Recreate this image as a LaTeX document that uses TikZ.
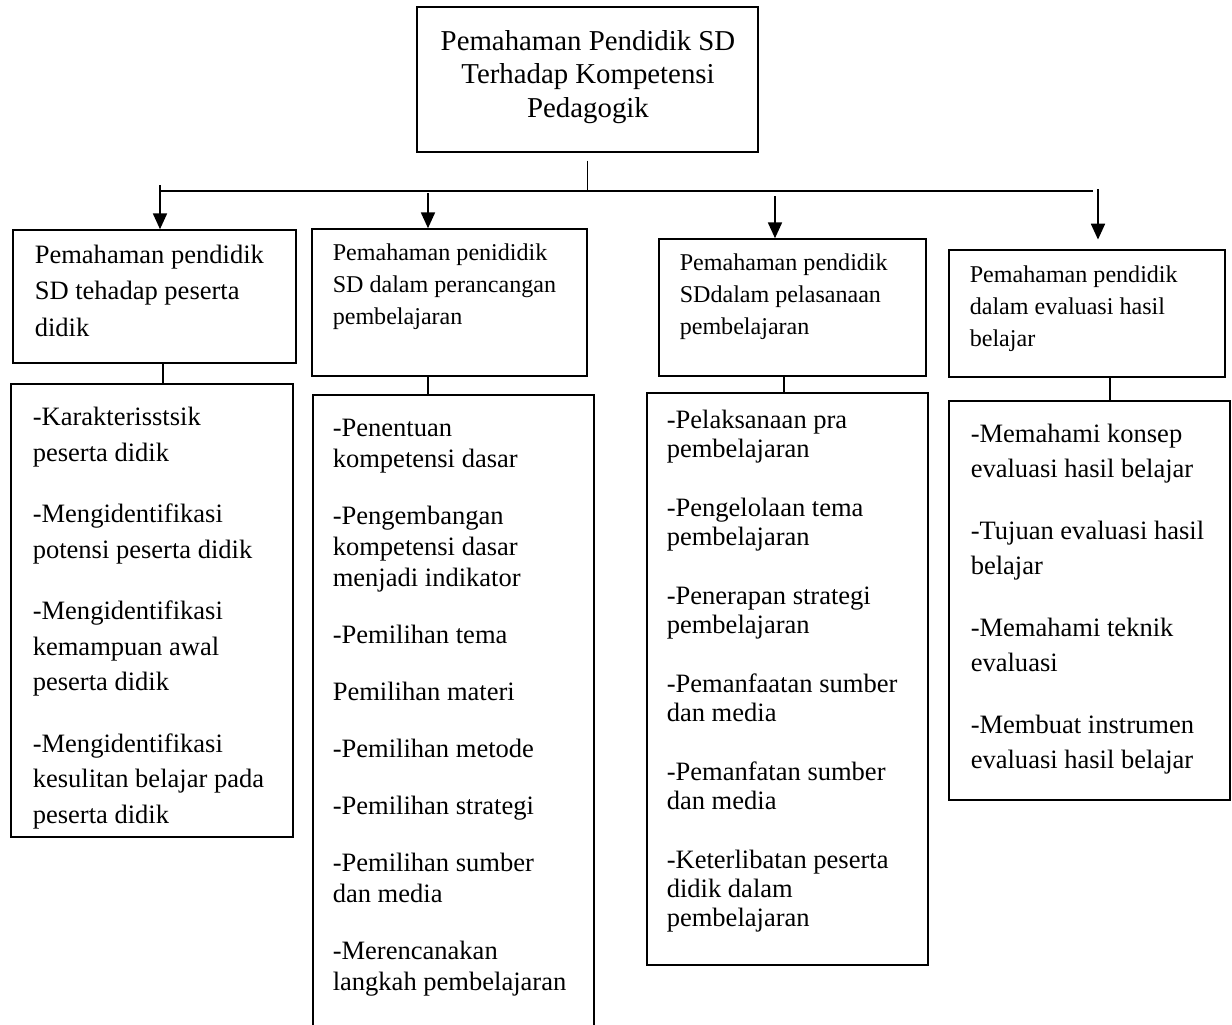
\documentclass[tikz,border=0pt]{standalone}
\usepackage{fontspec}
\setmainfont{Liberation Serif}
\usetikzlibrary{arrows.meta,fit}

\tikzset{
  box/.style={draw, line width=0.9pt, inner sep=0pt},
  txt/.style={anchor=base west, align=left, inner sep=0pt},
  arr/.style={line width=0.9pt, -{Triangle[width=8pt,length=9pt]}},
  mainfont/.style={font=\fontsize{16.4pt}{18.8pt}\selectfont},
  topA/.style={font=\fontsize{15.1pt}{20.5pt}\selectfont},
  topB/.style={font=\fontsize{13.7pt}{18pt}\selectfont},
  subA/.style={font=\fontsize{15.1pt}{20.2pt}\selectfont},
  subB/.style={font=\fontsize{15.1pt}{17.6pt}\selectfont},
  subC/.style={font=\fontsize{15.1pt}{16.5pt}\selectfont},
  subD/.style={font=\fontsize{15.1pt}{19.9pt}\selectfont}
}

\begin{document}
\begin{tikzpicture}[x=0.02cm, y=-0.02cm, line width=0.9pt]
    \useasboundingbox (0,0) rectangle (1232,1025);

    % Main box (texts are placed by the baseline of their last line)
    \node[box, fit={(417,7) (758,152)}] (main) {};
    \node[txt, anchor=base, align=center, mainfont] (maintxt) at (588,117)
        {Pemahaman Pendidik SD\\Terhadap Kompetensi\\Pedagogik};

    % Upper boxes
    \node[box, fit={(13,230) (296,363)}] (t1) {};
    \node[txt, topA] (t1txt) at (34,336) {Pemahaman pendidik\\SD tehadap peserta\\didik};
    \node[box, fit={(312,229) (587,376)}] (t2) {};
    \node[txt, topB] (t2txt) at (332,324) {Pemahaman penididik\\SD dalam perancangan\\pembelajaran};
    \node[box, fit={(659,239) (926,376)}] (t3) {};
    \node[txt, topB] (t3txt) at (679,334) {Pemahaman pendidik\\SDdalam pelasanaan\\pembelajaran};
    \node[box, fit={(949,250) (1225,377)}] (t4) {};
    \node[txt, topB] (t4txt) at (969,346) {Pemahaman pendidik\\dalam evaluasi hasil\\belajar};

    % Lower boxes
    \node[box, fit={(11,384) (293,837)}] (b1) {};
    \node[txt, subA] (b1txt) at (32,823)
        {-Karakterisstsik\\peserta didik\\[14.8pt]
         -Mengidentifikasi\\potensi peserta didik\\[14.8pt]
         -Mengidentifikasi\\kemampuan awal\\peserta didik\\[14.8pt]
         -Mengidentifikasi\\kesulitan belajar pada\\peserta didik};
    \node[box, fit={(313,395) (594,1060)}] (b2) {};
    \node[txt, subB] (b2txt) at (332,990)
        {-Penentuan\\kompetensi dasar\\[14.8pt]
         -Pengembangan\\kompetensi dasar\\menjadi indikator\\[14.8pt]
         -Pemilihan tema\\[14.8pt]
         Pemilihan materi\\[14.8pt]
         -Pemilihan metode\\[14.8pt]
         -Pemilihan strategi\\[14.8pt]
         -Pemilihan sumber\\dan media\\[14.8pt]
         -Merencanakan\\langkah pembelajaran};
    \node[box, fit={(647,393) (928,965)}] (b3) {};
    \node[txt, subC] (b3txt) at (666,926)
        {-Pelaksanaan pra\\pembelajaran\\[17pt]
         -Pengelolaan tema\\pembelajaran\\[17pt]
         -Penerapan strategi\\pembelajaran\\[17pt]
         -Pemanfaatan sumber\\dan media\\[17pt]
         -Pemanfatan sumber\\dan media\\[17pt]
         -Keterlibatan peserta\\didik dalam\\pembelajaran};
    \node[box, fit={(949,401) (1230,800)}] (b4) {};
    \node[txt, subD] (b4txt) at (970,768)
        {-Memahami konsep\\evaluasi hasil belajar\\[15.4pt]
         -Tujuan evaluasi hasil\\belajar\\[15.4pt]
         -Memahami teknik\\evaluasi\\[15.4pt]
         -Membuat instrumen\\evaluasi hasil belajar};

    % Bus line
    \coordinate (busL) at (160,191);
    \coordinate (busR) at (1093,191);
    \draw (busL) -- (busR);
    \draw ([yshift=-4.5pt]main.south) -- (main.south |- busL);

    % Arrows down to upper boxes
    \coordinate (a1) at (160,185);
    \coordinate (a2) at (428,193);
    \coordinate (a3) at (775,196);
    \coordinate (a4) at (1098,189);
    \draw[arr] (a1) -- (a1 |- t1.north);
    \draw[arr] (a2) -- (a2 |- t2.north);
    \draw[arr] (a3) -- (a3 |- t3.north);
    \draw[arr, shorten >=5.5pt] (a4) -- (a4 |- t4.north);

    % Links upper to lower boxes
    \coordinate (s1) at (163,0);
    \coordinate (s2) at (428,0);
    \coordinate (s3) at (784,0);
    \coordinate (s4) at (1110,0);
    \draw (t1.south -| s1) -- (b1.north -| s1);
    \draw (t2.south -| s2) -- (b2.north -| s2);
    \draw (t3.south -| s3) -- (b3.north -| s3);
    \draw (t4.south -| s4) -- (b4.north -| s4);
\end{tikzpicture}
\end{document}
